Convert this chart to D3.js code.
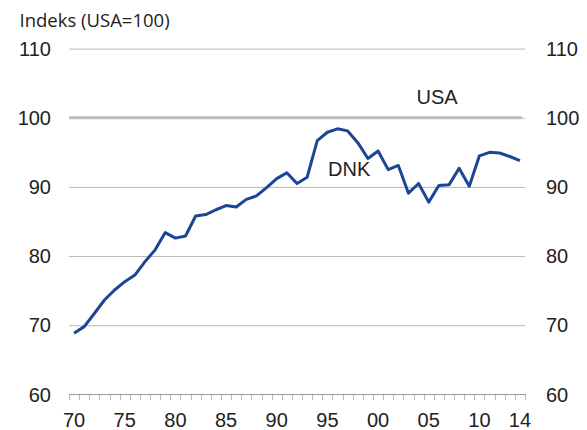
<!DOCTYPE html>
<html><head><meta charset="utf-8">
<script src="https://cdn.jsdelivr.net/npm/d3@7"></script>
<style>html,body{margin:0;padding:0;background:#fff;}svg{display:block;}</style>
</head><body>
<svg id="c" width="587" height="430"></svg>
<script>
const years = d3.range(1970, 2015);
const dnk = [68.85, 69.8, 71.7, 73.65, 75.1, 76.3, 77.25, 79.2, 80.9, 83.4,
  82.6, 82.9, 85.8, 86.0, 86.7, 87.3, 87.1, 88.2, 88.7, 89.9,
  91.2, 92.05, 90.5, 91.4, 96.7, 97.9, 98.4, 98.1, 96.4, 94.1,
  95.2, 92.5, 93.1, 89.1, 90.5, 87.8, 90.2, 90.3, 92.7, 90.1,
  94.5, 95.0, 94.9, 94.4, 93.8];
const usa = 100;
const yTicks = [60, 70, 80, 90, 100, 110];
const xLabelYears = [1970, 1975, 1980, 1985, 1990, 1995, 2000, 2005, 2010, 2014];
const title = "Indeks (USA=100)";

const svg = d3.select("#c");
const x = d3.scaleBand().domain(years).range([69, 525]).paddingInner(0).paddingOuter(0);
const y = d3.scaleLinear().domain([60, 110]).range([394.4, 48.6]);
const font = "'Liberation Sans', Arial, sans-serif";

// gridlines
svg.append("g").selectAll("line").data(yTicks.filter(d => d !== 60)).join("line")
  .attr("x1", 69).attr("x2", 525)
  .attr("y1", d => y(d) + 0.5).attr("y2", d => y(d) + 0.5)
  .attr("stroke", "#b8b8b8").attr("stroke-width", 1);

// left/right tick labels
svg.append("g").selectAll("text").data(yTicks).join("text")
  .attr("x", 51).attr("y", d => y(d)).attr("dy", "0.36em")
  .attr("text-anchor", "end").attr("font-family", font).attr("font-size", 20)
  .attr("fill", "#222").text(d => d);
svg.append("g").selectAll("text").data(yTicks).join("text")
  .attr("x", 546).attr("y", d => y(d)).attr("dy", "0.36em")
  .attr("text-anchor", "start").attr("font-family", font).attr("font-size", 20)
  .attr("fill", "#222").text(d => d);

// x axis
const xAxis = d3.axisBottom(x).tickSize(0).tickPadding(0)
  .tickValues(xLabelYears).tickFormat(d => String(d).slice(2));
const gx = svg.append("g").attr("transform", "translate(0,394.5)").call(xAxis);
gx.select(".domain").remove();
gx.selectAll("text").attr("font-family", font).attr("font-size", 20)
  .attr("fill", "#222").attr("y", 32.5).attr("dy", null);

svg.append("line").attr("x1", 69).attr("x2", 526).attr("y1", 394.5).attr("y2", 394.5)
  .attr("stroke", "#999").attr("stroke-width", 1);
const boundaries = years.map(d => x(d)).concat([x(years[years.length - 1]) + x.bandwidth()]);
svg.append("g").selectAll("line").data(boundaries).join("line")
  .attr("x1", d => Math.round(d) + 0.5).attr("x2", d => Math.round(d) + 0.5)
  .attr("y1", 395).attr("y2", 400)
  .attr("stroke", "#bbb").attr("stroke-width", 1);

// USA line
svg.append("line")
  .attr("x1", 69).attr("x2", 522)
  .attr("y1", y(usa)).attr("y2", y(usa))
  .attr("stroke", "#bdbdbd").attr("stroke-width", 3.2);

// DNK line
const line = d3.line().x((d, i) => x(years[i]) + x.bandwidth() / 2).y(d => y(d));
svg.append("path").datum(dnk).attr("d", line)
  .attr("fill", "none").attr("stroke", "#1b4696").attr("stroke-width", 3)
  .attr("stroke-linejoin", "round");

// labels
svg.append("text").attr("x", 416.5).attr("y", 104).attr("font-family", font)
  .attr("font-size", 20).attr("fill", "#222").text("USA");
svg.append("text").attr("x", 328).attr("y", 175.7).attr("font-family", font)
  .attr("font-size", 20).attr("fill", "#222").text("DNK");
svg.append("text").attr("x", 19.5).attr("y", 26.5).attr("font-family", "'Open Sans', sans-serif")
  .attr("font-size", 18.5).attr("fill", "#222").text(title);
</script>
</body></html>
